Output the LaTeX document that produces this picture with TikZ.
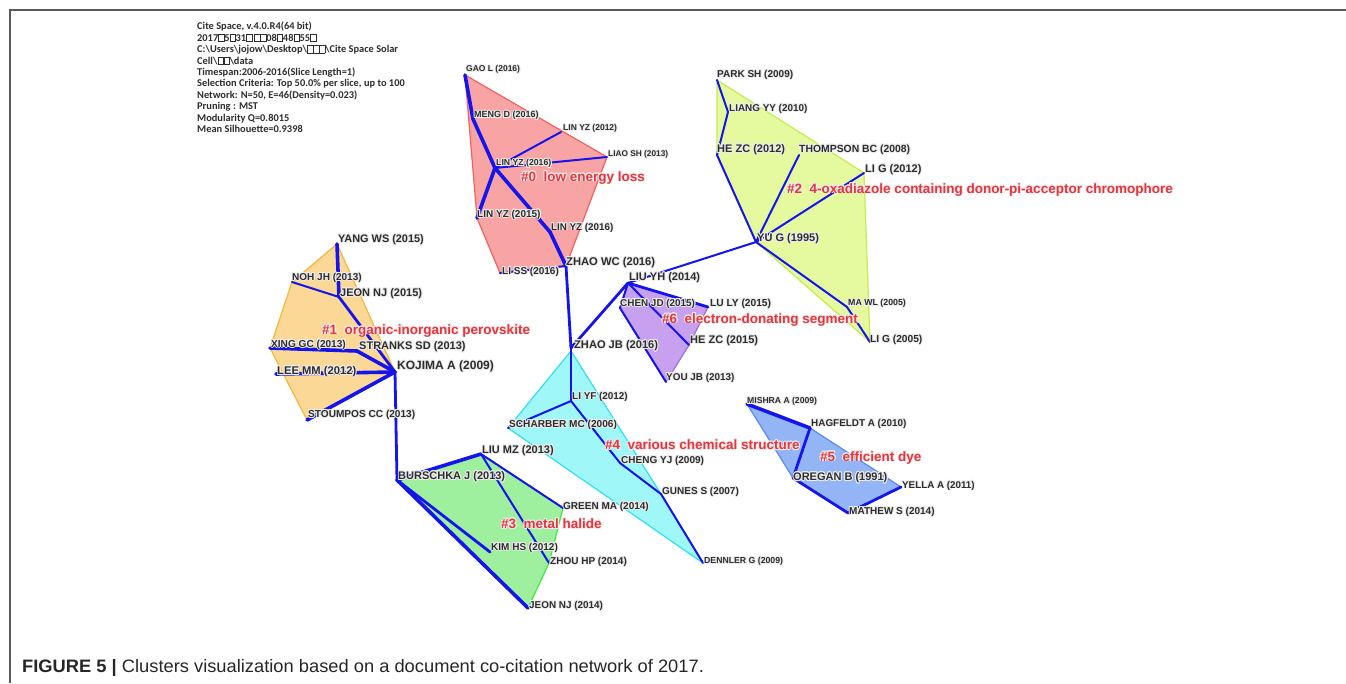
\documentclass[tikz,border=0pt]{standalone}
\usepackage{fontspec}
\setmainfont{Liberation Sans}
\newfontfamily\carl{Carlito}
\usepackage{graphicx}
\usepackage{contour}
\contourlength{0.9pt}
\contournumber{16}
\definecolor{edgeblue}{RGB}{20,20,235}
\definecolor{lblred}{RGB}{232,52,60}
\definecolor{txt}{RGB}{45,45,45}
\definecolor{f0}{RGB}{248,164,164}\definecolor{b0}{RGB}{244,96,96}
\definecolor{f1}{RGB}{251,216,150}\definecolor{b1}{RGB}{245,182,60}
\definecolor{f2}{RGB}{229,250,158}\definecolor{b2}{RGB}{198,236,80}
\definecolor{f3}{RGB}{158,240,158}\definecolor{b3}{RGB}{64,232,64}
\definecolor{f4}{RGB}{160,247,247}\definecolor{b4}{RGB}{48,224,240}
\definecolor{f5}{RGB}{147,181,245}\definecolor{b5}{RGB}{90,138,240}
\definecolor{f6}{RGB}{200,160,240}\definecolor{b6}{RGB}{160,112,224}
\newcommand\qb{{\fboxsep=0pt\fboxrule=0.5pt\fbox{\rule{0pt}{7pt}\kern5pt}}}
\newcommand\hl[1]{\contour{white!85!gray}{#1}}
\tikzset{
  lab/.style={font=\fontsize{#1}{#1}\selectfont\bfseries, inner sep=0pt, anchor=west, text=txt},
  lab/.default=10,
  clab/.style={font=\fontsize{13.5}{13.5}\selectfont\bfseries, inner sep=0pt, anchor=west, text=lblred},
  ed/.style={draw=edgeblue, line width=2pt, line cap=round, line join=round},
  edb/.style={draw=edgeblue, line width=3.6pt, line cap=round, line join=round},
  edm/.style={draw=edgeblue, line width=2.8pt, line cap=round, line join=round},
  hull/.style={line width=1.2pt, line join=round},
}
\begin{document}
\begin{tikzpicture}[x=1pt,y=-1pt]
\useasboundingbox (0,0) rectangle (1346,683);
% frame
\draw[line width=1.6pt, black!65] (10,683) -- (10,10) -- (1346,10);

% ---------- coordinates ----------
% cluster 0
\coordinate (gao) at (465,75);
\coordinate (meng) at (473,119);
\coordinate (lyz12) at (561,132);
\coordinate (liao) at (607,157);
\coordinate (lyzh) at (495,168);
\coordinate (lyz15) at (477,218);
\coordinate (lyz16) at (550,232);
\coordinate (zwc) at (566,266);
\coordinate (liss) at (500,273);
% cluster 2
\coordinate (park) at (717,80);
\coordinate (liang) at (728,112);
\coordinate (hezc12) at (717,155);
\coordinate (thom) at (799,155);
\coordinate (lig12) at (864,173);
\coordinate (yug) at (756,242);
\coordinate (mawl) at (847,307);
\coordinate (lig05) at (870,342);
% cluster 6
\coordinate (liuyh) at (628,283);
\coordinate (chenjd) at (620,308);
\coordinate (luly) at (708,307);
\coordinate (hezc15) at (689,345);
\coordinate (youjb) at (666,382);
\coordinate (zhaojb) at (571,348);
% cluster 1
\coordinate (yangws) at (337,244);
\coordinate (nohjh) at (292,282);
\coordinate (jeon15) at (339,297);
\coordinate (xing) at (270,348);
\coordinate (stranks) at (357,351);
\coordinate (kojima) at (395,372);
\coordinate (leemm) at (276,374);
\coordinate (stoump) at (307,420);
% cluster 4
\coordinate (liyf) at (571,401);
\coordinate (scharber) at (508,428);
\coordinate (chengyj) at (620,463);
\coordinate (gunes) at (661,494);
\coordinate (dennler) at (703,563);
% cluster 3
\coordinate (liumz) at (481,454);
\coordinate (burschka) at (397,480);
\coordinate (greenma) at (563,508);
\coordinate (kimhs) at (490,552);
\coordinate (zhouhp) at (549,563);
\coordinate (jeon14) at (528,608);
% cluster 5
\coordinate (mishra) at (747,404);
\coordinate (hagfeldt) at (810,428);
\coordinate (oregan) at (793,478);
\coordinate (yella) at (901,487);
\coordinate (mathew) at (848,513);

% ---------- hulls ----------
\filldraw[hull, fill=f0, draw=b0] (gao) -- (liao) -- (zwc) -- (liss) -- (lyz15) -- cycle;
\filldraw[hull, fill=f2, draw=b2] (park) -- (lig12) -- (lig05) -- (yug) -- (hezc12) -- cycle;
\filldraw[hull, fill=f1, draw=b1] (yangws) -- (kojima) -- (stoump) -- (xing) -- (nohjh) -- cycle;
\filldraw[hull, fill=f4, draw=b4] (571,351) -- (gunes) -- (dennler) -- (scharber) -- cycle;
\filldraw[hull, fill=f6, draw=b6] (liuyh) -- (luly) -- (hezc15) -- (youjb) -- (chenjd) -- cycle;
\filldraw[hull, fill=f3, draw=b3] (burschka) -- (liumz) -- (greenma) -- (zhouhp) -- (jeon14) -- cycle;
\filldraw[hull, fill=f5, draw=b5] (mishra) -- (hagfeldt) -- (yella) -- (mathew) -- (oregan) -- cycle;

% ---------- edges ----------
% cluster 0
\draw[edb] (gao) -- (meng);
\draw[edb] (meng) -- (lyzh);
\draw[ed] (lyzh) -- (lyz12);
\draw[ed] (lyzh) -- (liao);
\draw[edb] (lyzh) -- (lyz15);
\draw[edb] (lyzh) -- (lyz16);
\draw[edb] (lyz16) -- (zwc);
\draw[ed] (zwc) -- (liss);
\draw[edm] (zwc) -- (zhaojb);
% cluster 2
\draw[ed] (park) -- (liang);
\draw[ed] (liang) -- (hezc12);
\draw[ed] (hezc12) -- (yug);
\draw[ed] (thom) -- (yug);
\draw[ed] (lig12) -- (yug);
\draw[ed] (yug) -- (mawl);
\draw[ed] (mawl) -- (lig05);
\draw[ed] (yug) -- (liuyh);
% cluster 6
\draw[edm] (liuyh) -- (zhaojb);
\draw[ed] (liuyh) -- (chenjd);
\draw[edm] (liuyh) -- (luly);
\draw[ed] (liuyh) -- (hezc15);
\draw[ed] (chenjd) -- (youjb);
% cluster 1
\draw[edb] (yangws) -- (jeon15);
\draw[ed] (nohjh) -- (jeon15);
\draw[edm] (jeon15) -- (kojima);
\draw[edb] (xing) -- (stranks);
\draw[edb] (stranks) -- (kojima);
\draw[edb] (leemm) -- (kojima);
\draw[edb] (stoump) -- (kojima);
\draw[edm] (kojima) -- (burschka);
% cluster 4
\draw[edm] (zhaojb) -- (liyf);
\draw[ed] (liyf) -- (scharber);
\draw[ed] (liyf) -- (chengyj);
\draw[ed] (chengyj) -- (gunes);
\draw[ed] (gunes) -- (dennler);
% cluster 3
\draw[edb] (burschka) -- (liumz);
\draw[ed] (liumz) -- (greenma);
\draw[ed] (liumz) -- (zhouhp);
\draw[edm] (burschka) -- (kimhs);
\draw[edb] (burschka) -- (jeon14);
% cluster 5
\draw[edb] (mishra) -- (hagfeldt);
\draw[edm] (hagfeldt) -- (oregan);
\draw[edm] (oregan) -- (mathew);
\draw[edm] (mathew) -- (yella);

% ---------- labels ----------
\node[lab=8.5] (tgao) at (466,70) {\hl{GAO L (2016)}};
\node[lab=9] (tmeng) at (474,116) {\hl{MENG D (2016)}};
\node[lab=8.5] (tlyz12) at (563,129) {\hl{LIN YZ (2012)}};
\node[lab=8.3] (tliao) at (608,155) {\hl{LIAO SH (2013)}};
\node[lab=8.7] (tlyzh) at (496,164) {\hl{LIN YZ (2016)}};
\node[lab=10] (tlyz15) at (477,215) {\hl{LIN YZ (2015)}};
\node[lab=9.8] (tlyz16) at (551,228) {\hl{LIN YZ (2016)}};
\node[lab=11.2] (tzwc) at (566,263) {\hl{ZHAO WC (2016)}};
\node[lab=10] (tliss) at (502,272) {\hl{LI SS (2016)}};

\node[lab=10] (tpark) at (717,75) {\hl{PARK SH (2009)}};
\node[lab=9.9] (tliang) at (729,109) {\hl{LIANG YY (2010)}};
\node[lab=11] (thezc12) at (717,150) {\hl{HE ZC (2012)}};
\node[lab=10.4] (tthom) at (799,150) {\hl{THOMPSON BC (2008)}};
\node[lab=11] (tlig12) at (865,170) {\hl{LI G (2012)}};
\node[lab=11] (tyug) at (757,239) {\hl{YU G (1995)}};
\node[lab=8.8] (tmawl) at (848,304) {\hl{MA WL (2005)}};
\node[lab=10.2] (tlig05) at (870,340) {\hl{LI G (2005)}};

\node[lab=11] (tliuyh) at (629,278) {\hl{LIU YH (2014)}};
\node[lab=9.9] (tchenjd) at (620,304) {\hl{CHEN JD (2015)}};
\node[lab=10.2] (tluly) at (710,304) {\hl{LU LY (2015)}};
\node[lab=11] (thezc15) at (690,341) {\hl{HE ZC (2015)}};
\node[lab=9.9] (tyoujb) at (666,378) {\hl{YOU JB (2013)}};
\node[lab=11.1] (tzhaojb) at (574,346) {\hl{ZHAO JB (2016)}};

\node[lab=10.9] (tyangws) at (338,240) {\hl{YANG WS (2015)}};
\node[lab=10] (tnohjh) at (292,278) {\hl{NOH JH (2013)}};
\node[lab=11] (tjeon15) at (340,294) {\hl{JEON NJ (2015)}};
\node[lab=10.1] (txing) at (271,345) {\hl{XING GC (2013)}};
\node[lab=11] (tstranks) at (359,347) {\hl{STRANKS SD (2013)}};
\node[lab=12] (tkojima) at (397,367) {\hl{KOJIMA A (2009)}};
\node[lab=11.2] (tleemm) at (277,372) {\hl{LEE MM (2012)}};
\node[lab=10.1] (tstoump) at (308,415) {\hl{STOUMPOS CC (2013)}};

\node[lab=9.9] (tliyf) at (572,397) {\hl{LI YF (2012)}};
\node[lab=10.1] (tscharber) at (509,425) {\hl{SCHARBER MC (2006)}};
\node[lab=10] (tchengyj) at (621,461) {\hl{CHENG YJ (2009)}};
\node[lab=10] (tgunes) at (662,492) {\hl{GUNES S (2007)}};
\node[lab=8.7] (tdennler) at (704,562) {\hl{DENNLER G (2009)}};

\node[lab=11] (tliumz) at (482,451) {\hl{LIU MZ (2013)}};
\node[lab=11] (tburschka) at (398,477) {\hl{BURSCHKA J (2013)}};
\node[lab=10] (tgreenma) at (563,507) {\hl{GREEN MA (2014)}};
\node[lab=10] (tkimhs) at (491,548) {\hl{KIM HS (2012)}};
\node[lab=10] (tzhouhp) at (550,562) {\hl{ZHOU HP (2014)}};
\node[lab=9.9] (tjeon14) at (529,606) {\hl{JEON NJ (2014)}};

\node[lab=8.6] (tmishra) at (747,402) {\hl{MISHRA A (2009)}};
\node[lab=9.9] (thagfeldt) at (811,424) {\hl{HAGFELDT A (2010)}};
\node[lab=11] (toregan) at (793,478) {\hl{OREGAN B (1991)}};
\node[lab=9.8] (tyella) at (902,486) {\hl{YELLA A (2011)}};
\node[lab=10] (tmathew) at (849,512) {\hl{MATHEW S (2014)}};

% cluster labels
\node[clab] (c0) at (521,178) {\hl{\#0\ \ low energy loss}};
\node[clab] (c2) at (787,190) {\hl{\#2\ \ 4-oxadiazole containing donor-pi-acceptor chromophore}};
\node[clab] (c1) at (322,331) {\hl{\#1\ \ organic-inorganic perovskite}};
\node[clab] (c6) at (662,320) {\hl{\#6\ \ electron-donating segment}};
\node[clab] (c4) at (605,445) {\hl{\#4\ \ various chemical structure}};
\node[clab] (c3) at (501,524) {\hl{\#3\ \ metal halide}};
\node[clab] (c5) at (820,458) {\hl{\#5\ \ efficient dye}};

% info block
\node[anchor=north west, inner sep=0pt, align=left, text=txt,
      font=\carl\bfseries\fontsize{10.4}{11.4}\selectfont] (info) at (197,22) {%
Cite Space, v.4.0.R4(64 bit)\\
2017\qb5\qb31\qb\ \qb\qb08\qb48\qb55\qb\\
C:\textbackslash Users\textbackslash jojow\textbackslash Desktop\textbackslash\qb\qb\qb\textbackslash Cite Space Solar\\
Cell\textbackslash\qb\qb\textbackslash data\\
Timespan:2006-2016(Slice Length=1)\\
Selection Criteria: Top 50.0\% per slice, up to 100\\
Network: N=50, E=46(Density=0.023)\\
Pruning : MST\\
Modularity Q=0.8015\\
Mean Silhouette=0.9398};

% caption
\node[anchor=west, inner sep=0pt, text=black!85] (cap) at (22,668)
  {\scalebox{1.017}[1]{\fontsize{18}{18}\selectfont\textbf{FIGURE 5 |} Clusters visualization based on a document co-citation network of 2017.}};
\end{tikzpicture}
\end{document}
